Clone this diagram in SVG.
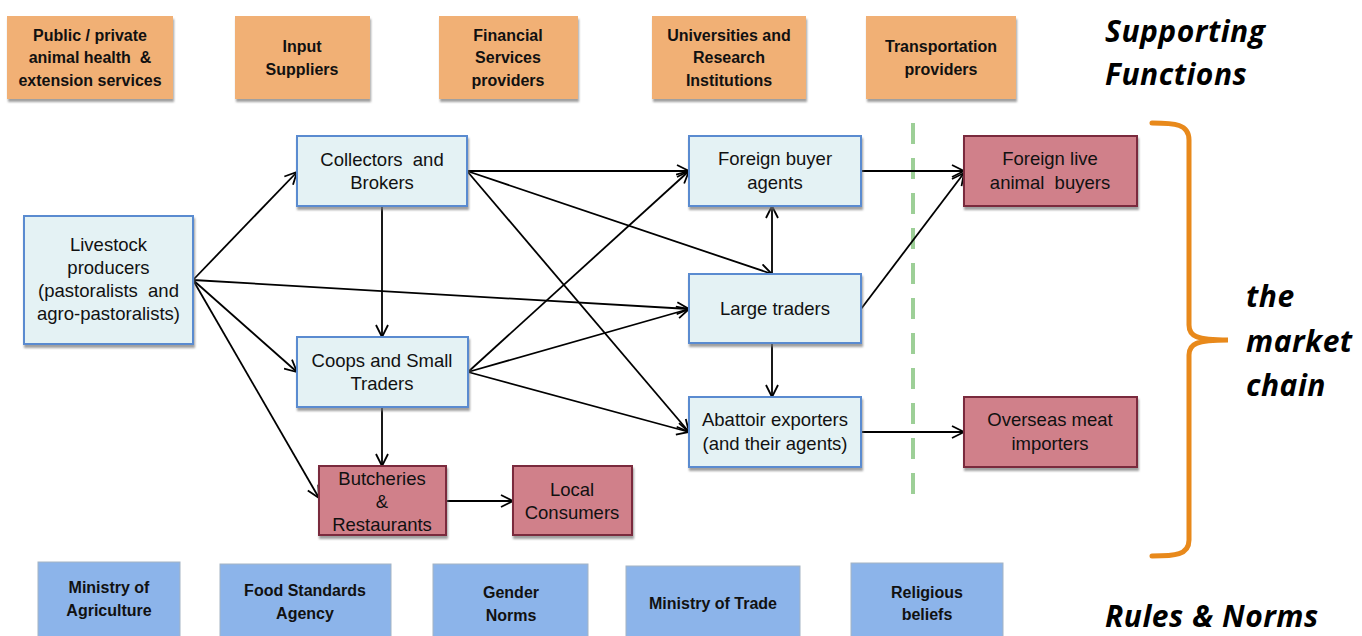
<svg xmlns="http://www.w3.org/2000/svg" width="1362" height="636" viewBox="0 0 1362 636">
<defs>
<style>
.sup rect{fill:#F1B075;stroke:none}
.rul rect{fill:#8CB4EA;stroke:#A4B4C4;stroke-width:1}
.chn rect{fill:#E4F2F4;stroke:#5A8BD0;stroke-width:2}
.end rect{fill:#D0808A;stroke:#7A2B3C;stroke-width:2}
.sh{filter:url(#ds)}
.bt{font-family:"Liberation Sans",Arial,sans-serif;font-weight:bold;font-size:16px;fill:#111;text-anchor:middle}
.nt{font-family:"Liberation Sans",Arial,sans-serif;font-size:18.5px;fill:#111;text-anchor:middle}
.big{font-family:"Open Sans",sans-serif;font-weight:700;font-style:italic;font-size:30px;letter-spacing:0.5px;fill:#000}
#edges line{stroke:#000;stroke-width:1.8;marker-end:url(#ah)}
</style>
<filter id="ds" x="-10%" y="-10%" width="130%" height="140%">
<feDropShadow dx="1" dy="3" stdDeviation="1" flood-color="#777" flood-opacity="0.7"/>
</filter>
<marker id="ah" viewBox="0 0 14 14" refX="13" refY="7" markerWidth="14" markerHeight="14" markerUnits="userSpaceOnUse" orient="auto">
<path d="M1,1 L13,7 L1,13" fill="none" stroke="#000" stroke-width="1.8"/>
</marker>
</defs>
<rect width="1362" height="636" fill="#fff"/>

<!-- Supporting functions -->
<g id="sup-health" class="sup"><rect class="sh" x="7" y="16" width="166" height="83"/>
<text class="bt" x="90" y="41">Public / private</text><text class="bt" x="90" y="63" xml:space="preserve">animal health  &amp;</text><text class="bt" x="90" y="86">extension services</text></g>
<g id="sup-input" class="sup"><rect class="sh" x="235" y="16" width="135" height="83"/>
<text class="bt" x="302" y="52">Input</text><text class="bt" x="302" y="75">Suppliers</text></g>
<g id="sup-fin" class="sup"><rect class="sh" x="439" y="16" width="139" height="83"/>
<text class="bt" x="508" y="41">Financial</text><text class="bt" x="508" y="63">Services</text><text class="bt" x="508" y="86">providers</text></g>
<g id="sup-uni" class="sup"><rect class="sh" x="652" y="16" width="154" height="83"/>
<text class="bt" x="729" y="41">Universities and</text><text class="bt" x="729" y="63">Research</text><text class="bt" x="729" y="86">Institutions</text></g>
<g id="sup-trans" class="sup"><rect class="sh" x="866" y="16" width="150" height="83"/>
<text class="bt" x="941" y="52">Transportation</text><text class="bt" x="941" y="75">providers</text></g>
<g id="lbl-supporting"><text class="big" x="1105" y="42">Supporting</text><text class="big" x="1105" y="85">Functions</text></g>

<!-- divider -->
<line x1="913" y1="123" x2="913" y2="500" stroke="#9DCF97" stroke-width="4" stroke-dasharray="21,14"/>

<!-- brace -->
<g id="brace"><path d="M1152,123 C1175,123 1189,124 1189,140 L1189,325 C1189,336 1196,340 1228,340 C1196,340 1189,344 1189,355 L1189,540 C1189,555 1175,556 1152,556" fill="none" stroke="#E8891B" stroke-width="5" stroke-linecap="round"/></g>
<g id="lbl-chain"><text class="big" x="1246" y="307">the</text><text class="big" x="1246" y="352">market</text><text class="big" x="1246" y="396">chain</text></g>

<!-- connectors -->
<g id="edges">
<line x1="193" y1="280" x2="297" y2="172"/>
<line x1="193" y1="280" x2="689" y2="309"/>
<line x1="193" y1="280" x2="297" y2="372"/>
<line x1="193" y1="280" x2="319" y2="498"/>
<line x1="382" y1="206" x2="382" y2="337"/>
<line x1="467" y1="171" x2="689" y2="171"/>
<line x1="467" y1="171" x2="772" y2="274"/>
<line x1="467" y1="171" x2="689" y2="432"/>
<line x1="468" y1="372" x2="689" y2="171"/>
<line x1="468" y1="372" x2="689" y2="309"/>
<line x1="468" y1="372" x2="689" y2="432"/>
<line x1="382" y1="407" x2="382" y2="466"/>
<line x1="772" y1="274" x2="772" y2="206"/>
<line x1="772" y1="343" x2="772" y2="397"/>
<line x1="861" y1="171" x2="964" y2="171"/>
<line x1="861" y1="309" x2="964" y2="173"/>
<line x1="861" y1="432" x2="964" y2="432"/>
<line x1="446" y1="501" x2="513" y2="501"/>
</g>

<!-- market chain nodes -->
<g id="n-livestock" class="chn"><rect class="sh" x="24" y="216" width="169" height="128"/>
<text class="nt" x="108.5" y="251">Livestock</text><text class="nt" x="108.5" y="274">producers</text><text class="nt" x="108.5" y="297" xml:space="preserve">(pastoralists  and</text><text class="nt" x="108.5" y="320">agro-pastoralists)</text></g>
<g id="n-collectors" class="chn"><rect class="sh" x="297" y="136" width="170" height="70"/>
<text class="nt" x="382" y="166" xml:space="preserve">Collectors  and</text><text class="nt" x="382" y="189">Brokers</text></g>
<g id="n-coops" class="chn"><rect class="sh" x="297" y="337" width="171" height="70"/>
<text class="nt" x="382" y="367">Coops and Small</text><text class="nt" x="382" y="390">Traders</text></g>
<g id="n-foreign-agents" class="chn"><rect class="sh" x="689" y="136" width="172" height="70"/>
<text class="nt" x="775" y="165">Foreign buyer</text><text class="nt" x="775" y="189">agents</text></g>
<g id="n-large" class="chn"><rect class="sh" x="689" y="274" width="172" height="69"/>
<text class="nt" x="775" y="315">Large traders</text></g>
<g id="n-abattoir" class="chn"><rect class="sh" x="689" y="397" width="172" height="70"/>
<text class="nt" x="775" y="426">Abattoir exporters</text><text class="nt" x="775" y="450">(and their agents)</text></g>
<g id="n-foreign-live" class="end"><rect class="sh" x="964" y="136" width="173" height="70"/>
<text class="nt" x="1050" y="165">Foreign live</text><text class="nt" x="1050" y="189" xml:space="preserve">animal  buyers</text></g>
<g id="n-overseas" class="end"><rect class="sh" x="964" y="397" width="173" height="70"/>
<text class="nt" x="1050" y="426">Overseas meat</text><text class="nt" x="1050" y="450">importers</text></g>
<g id="n-butcheries" class="end"><rect class="sh" x="319" y="466" width="127" height="69"/>
<text class="nt" x="382" y="485">Butcheries</text><text class="nt" x="382" y="508">&amp;</text><text class="nt" x="382" y="531">Restaurants</text></g>
<g id="n-local" class="end"><rect class="sh" x="513" y="466" width="119" height="69"/>
<text class="nt" x="572" y="496">Local</text><text class="nt" x="572" y="519">Consumers</text></g>

<!-- rules & norms -->
<g id="r-agri" class="rul"><rect x="38" y="562" width="142" height="76"/>
<text class="bt" x="109" y="593">Ministry of</text><text class="bt" x="109" y="616">Agriculture</text></g>
<g id="r-food" class="rul"><rect x="220" y="564" width="171" height="74"/>
<text class="bt" x="305" y="596">Food Standards</text><text class="bt" x="305" y="619">Agency</text></g>
<g id="r-gender" class="rul"><rect x="433" y="564" width="155" height="74"/>
<text class="bt" x="511" y="598">Gender</text><text class="bt" x="511" y="621">Norms</text></g>
<g id="r-trade" class="rul"><rect x="626" y="566" width="174" height="72"/>
<text class="bt" x="713" y="609">Ministry of Trade</text></g>
<g id="r-religious" class="rul"><rect x="851" y="563" width="152" height="75"/>
<text class="bt" x="927" y="598">Religious</text><text class="bt" x="927" y="620">beliefs</text></g>
<g id="lbl-rules"><text class="big" x="1105" y="627">Rules &amp; Norms</text></g>
</svg>
